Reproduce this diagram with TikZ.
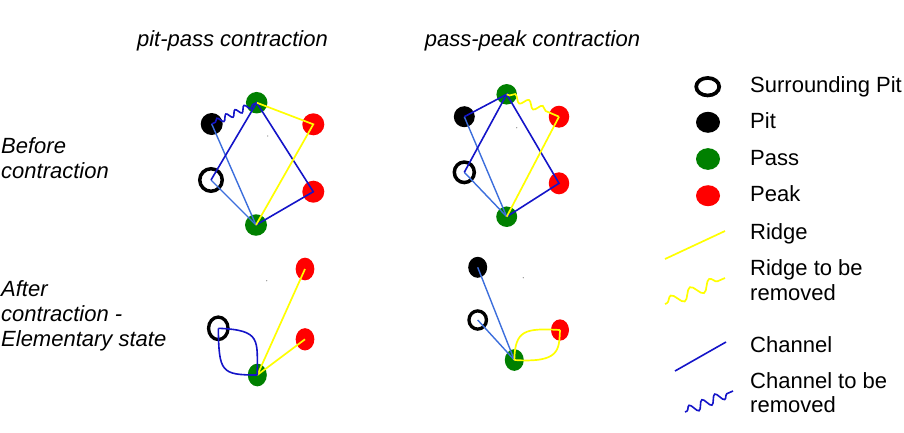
\documentclass[tikz,border=0pt]{standalone}
\usepackage{fontspec}
\setmainfont{Liberation Sans}
\usetikzlibrary{shapes.geometric,decorations.pathmorphing}

\definecolor{ridgeyellow}{RGB}{255,255,0}
\definecolor{chandark}{RGB}{20,20,200}
\definecolor{chanlight}{RGB}{60,110,220}
\definecolor{passgreen}{RGB}{0,128,0}
\definecolor{peakred}{RGB}{255,0,0}

\tikzset{
  sz/.style n args={2}{minimum width=#1pt,minimum height=#2pt},
  blob/.style={ellipse,inner sep=0pt,draw=none},
  pitdot/.style={blob,fill=black},
  passdot/.style={blob,fill=passgreen},
  peakdot/.style={blob,fill=peakred},
  ringdot/.style={ellipse,inner sep=0pt,draw=black,line width=3.5pt,fill=none},
  ridge/.style={draw=ridgeyellow,line width=1.7pt},
  chan/.style={draw=chandark,line width=1.6pt},
  chanlt/.style={draw=chanlight,line width=1.4pt},
  ridgewave/.style={ridge,decorate,decoration={snake,amplitude=#1}},
  chanwave/.style={chan,decorate,decoration={snake,amplitude=#1}},
  speck/.style={fill=gray,circle,inner sep=0pt,minimum size=1.3pt},
  lbl/.style={anchor=base west,inner sep=0pt},
  rowlbl/.style={lbl,font=\fontsize{22}{25.5}\selectfont\itshape},
  ttl/.style={anchor=base,inner sep=0pt,font=\fontsize{22}{25.5}\selectfont\itshape},
}

\begin{document}
\begin{tikzpicture}[x=1pt,y=-1pt,font=\fontsize{22}{25.5}\selectfont]
\useasboundingbox (0,0) rectangle (904,432);

% column titles
\node[ttl] (ttlA) at (232.5,46) {pit-pass contraction};
\node[ttl] (ttlB) at (532.5,46) {pass-peak contraction};

% row labels
\node[rowlbl] (rowA1) at (1,153) {Before};
\node[rowlbl] (rowA2) at (1,178) {contraction};
\node[rowlbl] (rowB1) at (1,296.7) {After};
\node[rowlbl] (rowB2) at (1,321.7) {contraction -};
\node[rowlbl] (rowB3) at (1,346.7) {Elementary state};

% ---- pit-pass, before ----
\node[passdot,sz={21.5}{21.5}] (p1t) at (256.7,102.7) {};
\node[pitdot,sz={22}{22}]      (k1)  at (211.7,124) {};
\node[peakdot,sz={22}{22}]     (r1a) at (313.3,124.3) {};
\node[ringdot,sz={22.5}{22.5}] (s1)  at (211,180) {};
\node[peakdot,sz={22}{22}]     (r1b) at (313.3,191.7) {};
\node[passdot,sz={22}{21.5}]   (p1b) at (256,225) {};
\node[speck] (d1) at (267.7,136) {};

\draw[chanlt] (k1.center) -- (p1b.center);
\draw[chanlt] (s1.center) -- (p1b.center);
\draw[chan] (s1.center) -- (p1t.center) -- (r1b.center) -- (p1b.center);
\draw[ridge] (p1t.center) -- (r1a.center) -- (p1b.center);
\draw[chanwave=3pt,decoration={segment length=10pt,pre length=4pt,post length=3pt}]
  (k1.center) -- (p1t.center);

% ---- pass-peak, before ----
\node[passdot,sz={20.5}{20.5}] (p2t) at (506.7,94.3) {};
\node[pitdot,sz={21}{21}]      (k2)  at (464.3,116.7) {};
\node[peakdot,sz={20.5}{22}]   (r2a) at (559,116.7) {};
\node[ringdot,sz={20}{20.5}]   (s2)  at (464.3,172.3) {};
\node[peakdot,sz={20.5}{22}]   (r2b) at (559,183.3) {};
\node[passdot,sz={21}{20.5}]   (p2b) at (506.7,216.7) {};
\node[speck] (d2) at (516.7,127.7) {};

\draw[chanlt] (k2.center) -- (p2b.center);
\draw[chanlt] (s2.center) -- (p2b.center);
\draw[chan] (k2.center) -- (p2t.center) -- (s2.center);
\draw[chan] (p2t.center) -- (r2b.center) -- (p2b.center);
\draw[ridge] (r2a.center) -- (p2b.center);
\draw[ridgewave=3.6pt,decoration={segment length=15pt,pre length=3pt,post length=8pt}]
  (p2t.center) -- (r2a.center);

% ---- pit-pass, after ----
\node[peakdot,sz={18.7}{22.7}] (r3a) at (305,269) {};
\node[ringdot,sz={19.5}{22.5},line width=3.3pt] (s3) at (218.3,328.3) {};
\node[peakdot,sz={18.7}{22.3}] (r3b) at (305,339.3) {};
\node[passdot,sz={19}{22.7}]   (p3)  at (257.3,375) {};
\node[speck] (d3) at (266.7,280.7) {};

\draw[ridge] (p3.center) -- (r3a.center);
\draw[ridge] (p3.center) -- (r3b.center);
\draw[chan] (s3.center) .. controls (262,330) and (257,340) .. (p3.center);
\draw[chan] (s3.center) .. controls (219,372) and (221,375) .. (p3.center);

% ---- pass-peak, after ----
\node[pitdot,sz={19}{21}]      (k4) at (477.7,267.3) {};
\node[ringdot,sz={17.5}{18.2},line width=3.3pt] (s4) at (477.7,320) {};
\node[peakdot,sz={18}{21.3}]   (r4) at (560,330) {};
\node[passdot,sz={19}{21.7}]   (p4) at (514.3,360) {};
\node[speck] (d4) at (523.3,277.7) {};

\draw[chanlt] (k4.center) -- (p4.center);
\draw[chanlt] (s4.center) -- (p4.center);
\draw[ridge] (p4.center) .. controls (515,330) and (525,328) .. (r4.center);
\draw[ridge] (p4.center) .. controls (560,363) and (559,350) .. (r4.center);

% ---- legend ----
\node[ringdot,sz={23}{17.5},line width=3.7pt] (lgS) at (707.7,86.7) {};
\node[pitdot,sz={24}{21}]    (lgK) at (708,122.3) {};
\node[passdot,sz={24}{21.7}] (lgP) at (708,159) {};
\node[peakdot,sz={24}{21}]   (lgR) at (708,195.7) {};

\coordinate (lgRidgeA) at (665,259);
\coordinate (lgRidgeB) at (725,231);
\draw[ridge] (lgRidgeA) -- (lgRidgeB);
\coordinate (lgRwA) at (665,304);
\coordinate (lgRwB) at (725,278);
\draw[ridgewave=5.5pt,decoration={segment length=21pt,pre length=2pt,post length=2pt}]
  (lgRwA) -- (lgRwB);
\coordinate (lgChA) at (675,371);
\coordinate (lgChB) at (726,342);
\draw[chan] (lgChA) -- (lgChB);
\coordinate (lgCwA) at (685,412);
\coordinate (lgCwB) at (733,391);
\draw[chanwave=4.5pt,decoration={segment length=14pt,pre length=2pt,post length=6pt}]
  (lgCwA) -- (lgCwB);

\node[lbl] (txS)  at (750,92.5)  {Surrounding Pit};
\node[lbl] (txK)  at (750,128.5) {Pit};
\node[lbl] (txP)  at (750,165.3) {Pass};
\node[lbl] (txR)  at (750,201.7) {Peak};
\node[lbl] (txRg) at (750,239)   {Ridge};
\node[lbl] (txRw1) at (750,275)  {Ridge to be};
\node[lbl] (txRw2) at (750,300.7) {removed};
\node[lbl] (txCh) at (750,352.3) {Channel};
\node[lbl] (txCw1) at (750,388.3) {Channel to be};
\node[lbl] (txCw2) at (750,412.7) {removed};
\end{tikzpicture}
\end{document}
